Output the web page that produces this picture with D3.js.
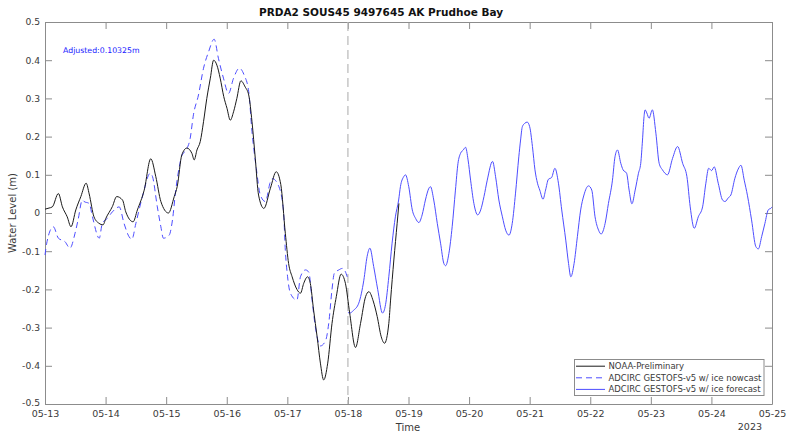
<!DOCTYPE html>
<html>
<head>
<meta charset="utf-8">
<script src="https://cdn.jsdelivr.net/npm/d3@7"></script>
<style>
  html, body { margin: 0; padding: 0; background: #fff; }
  svg { display: block; font-family: "DejaVu Sans", sans-serif; }
</style>
</head>
<body>
<svg id="chart" width="786" height="432"></svg>
<script>
// Station water level, 2023-05-13 .. 2023-05-25 (hours since 05-13 00:00 UTC, metres)
const noaaHours = [0, 1.6, 2.9, 5.3, 6.9, 8.8, 10.3, 12.2, 14.2, 16.3, 17.5, 19.4, 21.4, 23, 24.1, 26.7, 28.4, 30.7, 32, 34.9,
  36.6, 39.3, 41.9, 43.9, 45.9, 48.9, 51.2, 52.4, 54.2, 56.2, 58.2, 59.1, 60.2, 61.5, 62.8, 64.1, 65.5, 66.8, 68.1, 69.4,
  70.8, 72.1, 73.4, 74.7, 76, 77.6, 79.3, 80.7, 82, 83.3, 84.6, 86.7, 89.3, 91.6, 93.4, 95.2, 96.5, 97.9, 99.8, 101.2,
  102.5, 104, 105.1, 106.4, 107.8, 109.1, 110.4, 112, 113.7, 115.4, 117.3, 119, 120.7, 123, 125, 127, 128.3, 130, 131.6,
  133.2, 134.5, 136.2, 136.9, 138.2, 139.5, 140.2];
const noaaLevels = [0.010, 0.013, 0.016, 0.051, 0.016, -0.010, -0.036, 0.008, 0.043, 0.078, 0.050, -0.010, -0.027, -0.031,
  -0.014, 0.017, 0.043, 0.034, 0.003, -0.023, 0.008, 0.060, 0.142, 0.095, 0.030, 0.000, 0.043, 0.070, 0.152, 0.170, 0.156,
  0.139, 0.165, 0.187, 0.239, 0.300, 0.353, 0.400, 0.387, 0.353, 0.305, 0.274, 0.243, 0.265, 0.300, 0.346, 0.330, 0.309,
  0.239, 0.143, 0.047, 0.012, 0.065, 0.108, 0.075, -0.053, -0.132, -0.167, -0.200, -0.210, -0.184, -0.167, -0.184, -0.254,
  -0.324, -0.393, -0.437, -0.393, -0.289, -0.219, -0.160, -0.184, -0.262, -0.352, -0.289, -0.219, -0.206, -0.230, -0.271,
  -0.324, -0.341, -0.289, -0.228, -0.123, -0.027, 0.025];

const nowcastHours = [0, 0.8, 3.3, 5.3, 7.9, 9.9, 11.9, 13.1, 14.8, 15.5, 17.5, 18.8, 21.5, 22.7, 24.7, 26.7, 29.4, 31.3,
  33.3, 34.4, 36, 38.6, 41.7, 42.6, 44.5, 45.9, 46.9, 49.2, 50.5, 51.8, 53.2, 54.2, 55.9, 57.5, 58.8, 60.8, 62.8, 64.8, 67,
  68.7, 70.7, 72.7, 74.7, 77, 78.9, 80.7, 82, 83.7, 85.3, 87.3, 89.3, 90.1, 92.6, 94.5, 95.2, 96.1, 97.2, 99.8, 101.2,
  103.2, 104.5, 105.8, 107.1, 109.1, 111.1, 112.4, 113.7, 114.6, 116.4, 117.8, 119.7, 120];
const nowcastLevels = [-0.110, -0.075, -0.036, -0.066, -0.075, -0.092, -0.053, -0.018, 0.034, 0.030, 0.025, -0.010, -0.066,
  -0.027, -0.014, 0.003, 0.016, -0.027, -0.062, -0.069, -0.027, 0.043, 0.104, 0.095, 0.016, -0.036, -0.066, -0.058, -0.018,
  0.060, 0.121, 0.150, 0.165, 0.195, 0.257, 0.309, 0.379, 0.422, 0.455, 0.405, 0.353, 0.313, 0.353, 0.379, 0.361, 0.318,
  0.213, 0.117, 0.047, 0.030, 0.082, 0.090, 0.070, 0.003, -0.097, -0.167, -0.210, -0.228, -0.167, -0.149, -0.155, -0.228,
  -0.298, -0.348, -0.335, -0.289, -0.200, -0.158, -0.149, -0.145, -0.167, -0.175];

const forecastHours = [120, 120.7, 122.2, 124.3, 126.3, 127.6, 128.7, 130.2, 131.8, 133.7, 134.9, 136.2, 137.5, 138.8,
  140.1, 140.8, 142.1, 142.8, 144.1, 145.5, 146.8, 148.1, 149.4, 150.7, 152.1, 152.7, 154, 155.4, 156.7, 158, 158.7, 160,
  161.3, 162.6, 163.6, 164.6, 165.7, 166.6, 167.6, 168.6, 169.9, 171.4, 172.6, 173.9, 175.2, 177.3, 178.5, 179.8, 181.2,
  182.5, 183.8, 185.1, 186.4, 187.7, 188.4, 189.1, 190.1, 191, 192, 193.1, 194.1, 195.1, 196, 197.3, 198.3, 199.4, 200.7,
  202, 203.4, 204.7, 206.3, 207.4, 208.3, 209.6, 210.9, 212.2, 213.5, 215.3, 216.6, 217.9, 219.3, 220.3, 221.9, 223.2,
  224.8, 225.8, 226.8, 228.1, 229, 230.4, 231.4, 232.5, 233.8, 235.1, 236, 236.7, 237.3, 237.7, 238.4, 239.3, 240.6, 242,
  243.3, 244.6, 246.6, 248.6, 250.6, 252.6, 254.3, 255.6, 257.2, 258.8, 260.5, 261.8, 262.9, 264.1, 265.1, 266.7, 268.4,
  269.4, 270.7, 271.7, 273.3, 274.6, 275.7, 277, 278.3, 279.9, 281.6, 282.6, 283.9, 285.2, 286.5, 287.8, 288];
const forecastLevels = [-0.260, -0.262, -0.255, -0.236, -0.176, -0.114, -0.092, -0.140, -0.200, -0.262, -0.240, -0.167,
  -0.079, -0.010, 0.034, 0.069, 0.095, 0.100, 0.069, 0.008, -0.014, -0.025, -0.005, 0.034, 0.065, 0.069, 0.034, -0.027,
  -0.079, -0.132, -0.138, -0.106, -0.036, 0.060, 0.130, 0.156, 0.165, 0.172, 0.139, 0.086, 0.025, -0.005, 0.008, 0.043,
  0.086, 0.135, 0.095, 0.034, -0.010, -0.045, -0.058, -0.027, 0.052, 0.147, 0.191, 0.226, 0.235, 0.238, 0.226, 0.174,
  0.113, 0.078, 0.060, 0.036, 0.060, 0.088, 0.093, 0.117, 0.078, 0.008, -0.071, -0.132, -0.167, -0.132, -0.062, 0.008,
  0.047, 0.071, 0.060, -0.010, -0.045, -0.055, -0.027, 0.025, 0.086, 0.147, 0.165, 0.130, 0.113, 0.104, 0.060, 0.024,
  0.060, 0.104, 0.130, 0.191, 0.252, 0.270, 0.262, 0.248, 0.270, 0.209, 0.130, 0.113, 0.100, 0.143, 0.174, 0.130, 0.095,
  0.016, -0.040, -0.010, 0.016, 0.078, 0.117, 0.111, 0.121, 0.078, 0.034, 0.030, 0.040, 0.047, 0.091, 0.115, 0.125, 0.086,
  0.045, -0.018, -0.088, -0.094, -0.062, -0.027, 0.008, 0.014, 0.016];

const yTicks = [-0.5, -0.4, -0.3, -0.2, -0.1, 0, 0.1, 0.2, 0.3, 0.4, 0.5];
const legendLabels = ["NOAA-Preliminary", "ADCIRC GESTOFS-v5 w/ ice nowcast", "ADCIRC GESTOFS-v5 w/ ice forecast"];
const titleText = "PRDA2 SOUS45 9497645 AK Prudhoe Bay";
const adjustedText = "Adjusted:0.10325m";

const t0 = Date.UTC(2023, 4, 13);
const hour = 3600 * 1000;
const toDate = h => new Date(t0 + h * hour);
const zip = (hs, vs) => hs.map((h, i) => ({ t: toDate(h), v: vs[i] }));

const noaa = zip(noaaHours, noaaLevels);
const nowcast = zip(nowcastHours, nowcastLevels);
const forecast = zip(forecastHours, forecastLevels);

const svg = d3.select("#chart");
const m = { left: 45, right: 772, top: 22, bottom: 404 };

const x = d3.scaleUtc()
  .domain([new Date(Date.UTC(2023, 4, 13)), new Date(Date.UTC(2023, 4, 25))])
  .range([m.left, m.right]);
const y = d3.scaleLinear().domain([-0.5, 0.5]).range([m.bottom, m.top]);

const textColor = "#3a3a3a";
const lineColor = "#8c8c8c";
const blue = "#4d4dff";
const tickLen = 7;
const dayTicks = d3.utcDay.range(x.domain()[0], d3.utcDay.offset(x.domain()[1], 1));

// Axes box with inward ticks on all four sides
const bottomAxis = d3.axisBottom(x).tickValues(dayTicks).tickFormat(d3.utcFormat("%m-%d"))
  .tickSizeInner(-tickLen).tickSizeOuter(0).tickPadding(6);
const topAxis = d3.axisTop(x).tickValues(dayTicks).tickFormat("")
  .tickSizeInner(-tickLen).tickSizeOuter(0);
const leftAxis = d3.axisLeft(y).tickValues(yTicks).tickFormat(d => d === 0 ? "0" : d3.format(".1f")(d).replace("−", "-"))
  .tickSizeInner(-tickLen).tickSizeOuter(0).tickPadding(5);
const rightAxis = d3.axisRight(y).tickValues(yTicks).tickFormat("")
  .tickSizeInner(-tickLen).tickSizeOuter(0);

function styleAxis(g, size) {
  g.select(".domain").attr("stroke", lineColor).attr("stroke-width", 1);
  g.selectAll(".tick line").attr("stroke", lineColor).attr("stroke-width", 1);
  g.selectAll(".tick text").attr("fill", textColor).attr("font-size", size)
    .attr("font-family", "DejaVu Sans, sans-serif");
}

svg.append("g").attr("transform", `translate(0,${m.bottom})`).call(bottomAxis).call(styleAxis, "9.5px");
svg.append("g").attr("transform", `translate(0,${m.top})`).call(topAxis).call(styleAxis, "9.5px");
const yAxisG = svg.append("g").attr("transform", `translate(${m.left},0)`).call(leftAxis).call(styleAxis, "9.2px");
// lowest label sits just above the date labels
yAxisG.selectAll(".tick text").filter(d => d === -0.5).attr("dy", "0.2em");
svg.append("g").attr("transform", `translate(${m.right},0)`).call(rightAxis).call(styleAxis, "9.5px");

// Nowcast / forecast boundary
svg.append("line")
  .attr("x1", x(toDate(120))).attr("x2", x(toDate(120)))
  .attr("y1", m.top).attr("y2", m.bottom)
  .attr("stroke", "#b8b8b8").attr("stroke-width", 1.2).attr("stroke-dasharray", "9,5");

const line = d3.line().x(d => x(d.t)).y(d => y(d.v)).curve(d3.curveMonotoneX);
const plot = svg.append("g");

plot.append("path").datum(nowcast).attr("d", line)
  .attr("fill", "none").attr("stroke", blue).attr("stroke-width", 1).attr("stroke-dasharray", "6,4");
plot.append("path").datum(forecast).attr("d", line)
  .attr("fill", "none").attr("stroke", blue).attr("stroke-width", 1);
plot.append("path").datum(noaa).attr("d", line)
  .attr("fill", "none").attr("stroke", "#1a1a1a").attr("stroke-width", 1);

// Title and labels
svg.append("text").attr("x", 381).attr("y", 16).attr("text-anchor", "middle")
  .attr("font-size", "10.5px").attr("font-weight", "bold").attr("fill", "#111").text(titleText);

svg.append("text").attr("x", 408).attr("y", 431).attr("text-anchor", "middle")
  .attr("font-size", "10px").attr("fill", textColor).text("Time");

svg.append("text").attr("x", 762).attr("y", 430).attr("text-anchor", "end")
  .attr("font-size", "9.5px").attr("fill", textColor).text("2023");

svg.append("text").attr("transform", `translate(16,${(m.top + m.bottom) / 2}) rotate(-90)`)
  .attr("text-anchor", "middle").attr("font-size", "10px").attr("fill", textColor).text("Water Level (m)");

svg.append("text").attr("x", 63).attr("y", 53)
  .attr("font-size", "7.8px").attr("fill", "#2020ff").text(adjustedText);

// Legend
const lg = svg.append("g");
lg.append("rect").attr("x", 574.5).attr("y", 359.5).attr("width", 189.5).attr("height", 36)
  .attr("fill", "#fff").attr("stroke", lineColor).attr("stroke-width", 1);
const legendStyles = [
  { stroke: "#1a1a1a", dash: null },
  { stroke: blue, dash: "6,4" },
  { stroke: blue, dash: null }
];
legendLabels.forEach((lab, i) => {
  const yy = 366.2 + i * 11.6;
  lg.append("line").attr("x1", 576).attr("x2", 605).attr("y1", yy).attr("y2", yy)
    .attr("stroke", legendStyles[i].stroke).attr("stroke-width", 1)
    .attr("stroke-dasharray", legendStyles[i].dash);
  lg.append("text").attr("x", 608.5).attr("y", yy + 3)
    .attr("font-size", "8.5px").attr("fill", textColor).text(lab);
});
</script>
</body>
</html>
